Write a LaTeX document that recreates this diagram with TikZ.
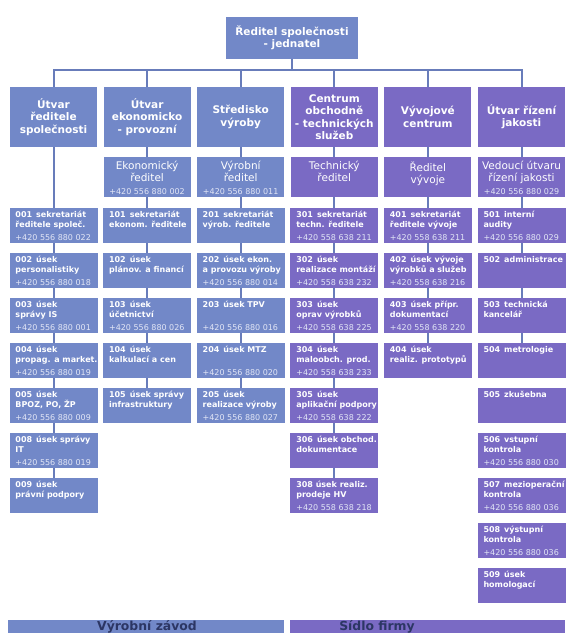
\documentclass[tikz,border=0pt]{standalone}
\usepackage{fontspec}
\setmainfont{DejaVu Sans}
\usepackage{xcolor}
\definecolor{bluebox}{RGB}{114,136,200}
\definecolor{purplebox}{RGB}{122,106,196}
\definecolor{linecolor}{RGB}{104,124,186}
\definecolor{phonecolor}{RGB}{226,230,246}
\definecolor{bartext}{RGB}{44,54,100}

\tikzset{
  topbox/.style={fill=bluebox, minimum width=132pt, minimum height=42pt, inner sep=0pt,
    text=white, align=center, font=\fontsize{10.5}{12.5}\selectfont\bfseries},
  headbox/.style={minimum width=87pt, minimum height=60pt, inner sep=0pt,
    text=white, align=center, font=\fontsize{10.5}{12.5}\selectfont\bfseries},
  dirbox/.style={minimum width=87pt, minimum height=40pt, inner sep=0pt},
  dirtext/.style={anchor=north, inner xsep=3pt, inner ysep=4.5pt, text=white, align=center,
    font=\fontsize{10.5}{12}\selectfont},
  dirphone/.style={anchor=south, inner ysep=2pt, text=phonecolor, font=\fontsize{8}{9.5}\selectfont},
  unitbox/.style={minimum width=88pt, minimum height=35pt, inner sep=0pt},
  unittext/.style={anchor=north west, inner xsep=6pt, inner ysep=3.5pt, text=white, align=left,
    font=\fontsize{8}{9.5}\selectfont\bfseries},
  unitphone/.style={anchor=south west, inner xsep=6pt, inner ysep=2pt, text=phonecolor,
    font=\fontsize{8}{9.5}\selectfont},
  barbox/.style={minimum height=13pt, inner sep=0pt},
  bartitle/.style={inner sep=0pt, text=bartext, font=\fontsize{12.4}{13}\selectfont\bfseries},
  conn/.style={draw=linecolor, line width=2pt}
}

\begin{document}
\begin{tikzpicture}[x=1pt,y=1pt]
  \useasboundingbox (0,0) rectangle (576,-643);
  % top of the tree
  \node[topbox] (top) at (292,-38) {Ředitel společnosti\\- jednatel};
  % column heads
  \node[headbox, fill=bluebox] (h0) at (53.5,-117) {Útvar\\ředitele\\společnosti};
  \node[headbox, fill=bluebox] (h1) at (147.1,-117) {Útvar\\ekonomicko\\- provozní};
  \node[headbox, fill=bluebox] (h2) at (240.7,-117) {Středisko\\výroby};
  \node[headbox, fill=purplebox] (h3) at (334.3,-117) {Centrum\\obchodně\\- technických\\služeb};
  \node[headbox, fill=purplebox] (h4) at (427.9,-117) {Vývojové\\centrum};
  \node[headbox, fill=purplebox] (h5) at (521.5,-117) {Útvar řízení\\jakosti};
  % directors
  \foreach \c/\x/\col/\txt/\ph in {1/147.1/bluebox/{Ekonomický\\ředitel}/{+420 556 880 002},
      2/240.7/bluebox/{Výrobní\\ředitel}/{+420 556 880 011},
      3/334.3/purplebox/{Technický\\ředitel}/{},
      4/427.9/purplebox/{Ředitel\\vývoje}/{},
      5/521.5/purplebox/{Vedoucí útvaru\\řízení jakosti}/{+420 556 880 029}} {
    \node[dirbox, fill=\col] (d\c) at (\x,-177) {};
    \node[dirtext] (d\c-t) at (d\c.north) {\txt};
    \node[dirphone] (d\c-p) at (d\c.south) {\ph};
  }
  % bus
  \coordinate (bus) at (292,-70);
  \draw[conn] (top.south) -- (bus);
  \draw[conn] (h0.north) |- (bus) -| (h5.north);
  \foreach \c in {1,...,4}
    \draw[conn] (h\c.north) -- (h\c.north |- bus);
  % column 0
  \foreach \r/\txt/\ph in {0/{001\enspace sekretariát\\ředitele společ.}/{+420 556 880 022},
      1/{002\enspace úsek\\personalistiky}/{+420 556 880 018},
      2/{003\enspace úsek\\správy IS}/{+420 556 880 001},
      3/{004\enspace úsek\\propag. a market.}/{+420 556 880 019},
      4/{005\enspace úsek\\BPOZ, PO, ŽP}/{+420 556 880 009},
      5/{008\enspace úsek správy\\IT}/{+420 556 880 019},
      6/{009\enspace úsek\\právní podpory}/{}} {
    \node[unitbox, fill=bluebox] (a\r) at (53.5,{-225.5-45*\r}) {};
    \node[unittext] (a\r-t) at (a\r.north west) {\txt};
    \node[unitphone] (a\r-p) at (a\r.south west) {\ph};
  }
  % column 1
  \foreach \r/\txt/\ph in {0/{101\enspace sekretariát\\ekonom. ředitele}/{},
      1/{102\enspace úsek\\plánov. a financí}/{},
      2/{103\enspace úsek\\účetnictví}/{+420 556 880 026},
      3/{104\enspace úsek\\kalkulací a cen}/{},
      4/{105\enspace úsek správy\\infrastruktury}/{}} {
    \node[unitbox, fill=bluebox] (b\r) at (147.1,{-225.5-45*\r}) {};
    \node[unittext] (b\r-t) at (b\r.north west) {\txt};
    \node[unitphone] (b\r-p) at (b\r.south west) {\ph};
  }
  % column 2
  \foreach \r/\txt/\ph in {0/{201\enspace sekretariát\\výrob. ředitele}/{},
      1/{202\enspace úsek ekon.\\a provozu výroby}/{+420 556 880 014},
      2/{203\enspace úsek TPV}/{+420 556 880 016},
      3/{204\enspace úsek MTZ}/{+420 556 880 020},
      4/{205\enspace úsek\\realizace výroby}/{+420 556 880 027}} {
    \node[unitbox, fill=bluebox] (e\r) at (240.7,{-225.5-45*\r}) {};
    \node[unittext] (e\r-t) at (e\r.north west) {\txt};
    \node[unitphone] (e\r-p) at (e\r.south west) {\ph};
  }
  % column 3
  \foreach \r/\txt/\ph in {0/{301\enspace sekretariát\\techn. ředitele}/{+420 558 638 211},
      1/{302\enspace úsek\\realizace montáží}/{+420 558 638 232},
      2/{303\enspace úsek\\oprav výrobků}/{+420 558 638 225},
      3/{304\enspace úsek\\maloobch. prod.}/{+420 558 638 233},
      4/{305\enspace úsek\\aplikační podpory}/{+420 558 638 222},
      5/{306\enspace úsek obchod.\\dokumentace}/{},
      6/{308 úsek realiz.\\prodeje HV}/{+420 558 638 218}} {
    \node[unitbox, fill=purplebox] (t\r) at (334.3,{-225.5-45*\r}) {};
    \node[unittext] (t\r-t) at (t\r.north west) {\txt};
    \node[unitphone] (t\r-p) at (t\r.south west) {\ph};
  }
  % column 4
  \foreach \r/\txt/\ph in {0/{401\enspace sekretariát\\ředitele vývoje}/{+420 558 638 211},
      1/{402\enspace úsek vývoje\\výrobků a služeb}/{+420 558 638 216},
      2/{403\enspace úsek přípr.\\dokumentací}/{+420 558 638 220},
      3/{404\enspace úsek\\realiz. prototypů}/{}} {
    \node[unitbox, fill=purplebox] (v\r) at (427.9,{-225.5-45*\r}) {};
    \node[unittext] (v\r-t) at (v\r.north west) {\txt};
    \node[unitphone] (v\r-p) at (v\r.south west) {\ph};
  }
  % column 5
  \foreach \r/\txt/\ph in {0/{501\enspace interní\\audity}/{+420 556 880 029},
      1/{502\enspace administrace}/{},
      2/{503\enspace technická\\kancelář}/{},
      3/{504\enspace metrologie}/{},
      4/{505\enspace zkušebna}/{},
      5/{506\enspace vstupní\\kontrola}/{+420 556 880 030},
      6/{507\enspace mezioperační\\kontrola}/{+420 556 880 036},
      7/{508\enspace výstupní\\kontrola}/{+420 556 880 036},
      8/{509\enspace úsek\\homologací}/{}} {
    \node[unitbox, fill=purplebox] (j\r) at (521.5,{-225.5-45*\r}) {};
    \node[unittext] (j\r-t) at (j\r.north west) {\txt};
    \node[unitphone] (j\r-p) at (j\r.south west) {\ph};
  }
  % connectors down the columns
  \draw[conn] (h0.south) -- (a0.north);
  \foreach \c/\u in {1/b,2/e,3/t,4/v,5/j} {
    \draw[conn] (h\c.south) -- (d\c.north);
    \draw[conn] (d\c.south) -- (\u0.north);
  }
  \foreach \u/\n in {a/5,b/3,e/3,t/5,v/2,j/2}
    \foreach \r [count=\s] in {0,...,\n}
      \draw[conn] (\u\r.south) -- (\u\s.north);
  % site bars
  \node[barbox, fill=bluebox, minimum width=276pt] (zavod) at (146,-626.5) {};
  \node[bartitle] (zavod-t) at (147,-626.5) {Výrobní závod};
  \node[barbox, fill=purplebox, minimum width=275pt] (sidlo) at (427.5,-626.5) {};
  \node[bartitle] (sidlo-t) at (377,-626.5) {Sídlo firmy};
\end{tikzpicture}
\end{document}
